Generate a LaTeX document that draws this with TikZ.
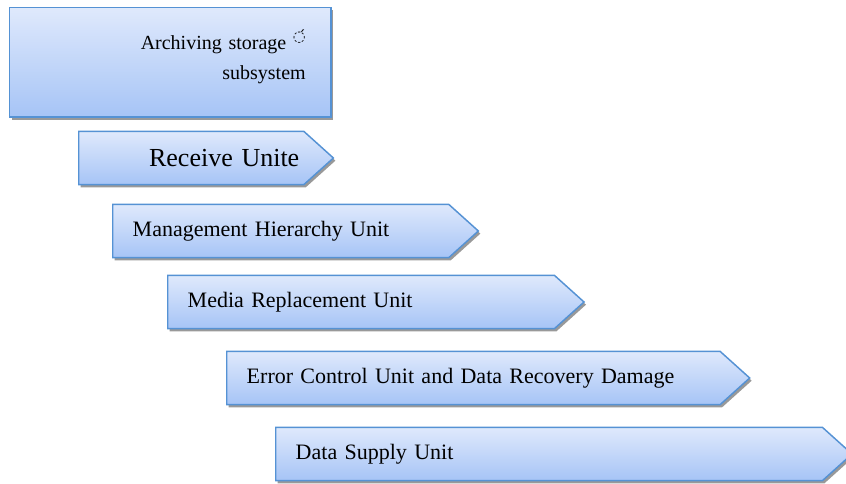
\documentclass[tikz,border=0pt]{standalone}
\usepackage{fontspec}
\setmainfont{Liberation Serif}
\newfontfamily\marksfont{DejaVu Sans}
\usetikzlibrary{shapes,shapes.symbols,shadows,positioning}
\definecolor{boxtop}{HTML}{DFE9FC}
\definecolor{boxbottom}{HTML}{A6C4F6}
\definecolor{boxline}{HTML}{5592D4}
\tikzset{unit node/.style={signal,signal to=east,signal pointer angle=84,draw=boxline,line width=1.1pt,
		top color=boxtop,bottom color=boxbottom,minimum height=40pt,inner xsep=15pt,anchor=west,
		font=\fontsize{16.5}{20}\selectfont,align=left,
		drop shadow={shadow xshift=1.5pt,shadow yshift=-2pt,fill=black!40,opacity=1}},
}
\tikzstyle{headnode}=[rectangle,draw=boxline,line width=1.1pt,top color=boxtop,bottom color=boxbottom,
	anchor=north west,minimum width=241pt,minimum height=82pt,align=right,text width=203pt,text depth=34pt,
	font=\fontsize{15}{22.5}\selectfont,
	drop shadow={shadow xshift=1.5pt,shadow yshift=-2pt,fill=black!40,opacity=1}]

\begin{document}
\begin{tikzpicture}[x=0.75pt,y=-0.75pt]
		\useasboundingbox (0,0) rectangle (846,483);
		\node[headnode] (archive) at (9,7) {Archiving storage\hspace{5pt}\raisebox{6pt}{\marksfont\fontsize{11}{11}\selectfont ◌́}\hspace*{8pt}\\subsystem};
		\node[unit node,minimum width=191pt,inner xsep=2pt,text width=162pt,align=right,font=\fontsize{19.5}{22}\selectfont] (receive) at (78,158) {Receive Unite};
		\node[unit node,minimum width=270pt,text width=222pt] (hierarchy) at (112,231) {Management Hierarchy Unit};
		\node[unit node,minimum width=308pt,text width=260pt] (media) at (167,302) {Media Replacement Unit};
		\node[unit node,minimum width=389pt,text width=340pt] (error) at (226,378) {Error Control Unit and Data Recovery Damage};
		\node[unit node,minimum width=428pt,text width=380pt] (supply) at (275,454) {Data Supply Unit};
\end{tikzpicture}
\end{document}
